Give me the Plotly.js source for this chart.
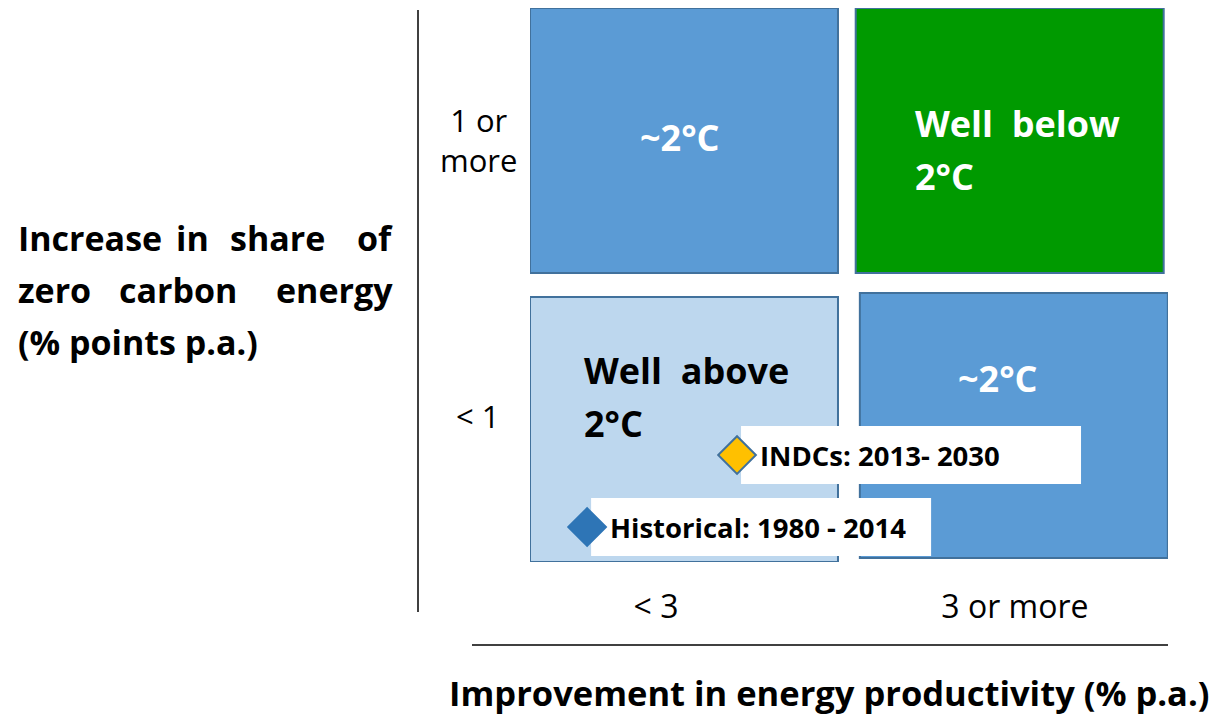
<!DOCTYPE html>
<html>
<head>
<meta charset="utf-8">
<script src="https://cdn.plot.ly/plotly-3.0.1.min.js"></script>
<style>html,body{margin:0;padding:0;background:#fff;}#chart{width:1221px;height:716px;}</style>
</head>
<body>
<div id="chart"></div>
<script>
// ---------- data ----------
const xCategories = ["< 3", "3 or more"];
const yCategories = ["< 1", "1 or more"];
const xTitle = "Improvement in energy productivity (% p.a.)";
const yTitleLines = ["Increase in share of", "zero carbon energy", "(% points p.a.)"];

const cellCol = [0, 1, 0, 1];
const cellRow = [1, 1, 0, 0];
const cellLabel = [["~2°C"], ["Well\u00A0 below", "2°C"], ["Well\u00A0 above", "2°C"], ["~2°C"]];

const seriesNames = ["Historical: 1980 - 2014", "INDCs: 2013- 2030"];
const productivity = [0.179, 0.649];
const zeroCarbonShare = [0.126, 0.386];

// ---------- style ----------
const FONT = "'Open Sans', Lato, sans-serif";
const cellFill = ["#5B9BD5", "#009A00", "#BDD7EE", "#5B9BD5"];
const cellText = ["#ffffff", "#ffffff", "#000000", "#ffffff"];
const cellBorder = "#41719C";
const cellW = 0.9655, cellH = 0.957;
const cellShift = [[0, 0.043], [0.021, 0.043], [0, 0], [0.034, 0.0144]];
// label anchor within each cell: [x, y, xanchor]
const cellLabelPos = [[0.470, 0.531, "center"], [0.2006, 0.487, "left"], [0.163, 0.596, "left"], [0.467, 0.664, "center"]];
const markerFill = ["#2E75B6", "#FFC000"];
const markerLine = ["#2E75B6", "#41719C"];

const L = 530, R = 53, T = 8, B = 154, W = 1221, H = 716;
const PW = W - L - R, PH = H - T - B;
const ux = d => d * 2 / PW, uy = d => d * 2 / PH;       // px -> data units
const pxX = x => (x - L) / PW, pxY = y => (H - B - y) / PH; // px -> paper

const shapes = [];
const annotations = [];

cellCol.forEach((c, i) => {
  const x0 = c + cellShift[i][0], y0 = cellRow[i] + cellShift[i][1];
  shapes.push({type: "rect", xref: "x", yref: "y", x0: x0, x1: x0 + cellW, y0: y0, y1: y0 + cellH,
    fillcolor: cellFill[i], line: {color: cellBorder, width: 2}, layer: "below"});
  const lines = cellLabel[i];
  const lp = cellLabelPos[i];
  const gap = uy(53);
  lines.forEach((t, k) => {
    annotations.push({xref: "x", yref: "y", x: c + lp[0], y: cellRow[i] + lp[1] + (lines.length - 1) * gap / 2 - k * gap,
      text: t, showarrow: false, xanchor: lp[2], yanchor: "middle",
      font: {family: FONT, size: 36, color: cellText[i], weight: 700}});
  });
});

// label boxes
productivity.forEach((p, i) => {
  const z = zeroCarbonShare[i];
  shapes.push({type: "rect", xref: "x", yref: "y", x0: p + ux(4), x1: p + ux(344), y0: z - uy(29), y1: z + uy(29),
    fillcolor: "#ffffff", line: {width: 0}, layer: "below"});
  annotations.push({xref: "x", yref: "y", x: p + ux(21), y: z, text: seriesNames[i], showarrow: false,
    xanchor: "left", yanchor: "middle", font: {family: FONT, size: 27.5, color: "#000", weight: 700}});
});

// axis lines
shapes.push({type: "line", xref: "paper", yref: "paper", x0: pxX(418), x1: pxX(418), y0: pxY(612), y1: pxY(10),
  line: {color: "#000", width: 1.5}});
shapes.push({type: "line", xref: "paper", yref: "paper", x0: pxX(472), x1: pxX(1168), y0: pxY(645), y1: pxY(645),
  line: {color: "#000", width: 1.5}});

// y tick labels (centered)
const yTickVals = [0.527, 1.523];
yCategories.forEach((t, i) => {
  annotations.push({xref: "paper", yref: "y", x: pxX(478), y: yTickVals[i], text: t.replace(" or ", " or<br>"),
    showarrow: false, xanchor: "center", yanchor: "middle", align: "center",
    font: {family: FONT, size: 31, color: "#000"}});
});

// y title, justified by words (word anchors follow the reference's justified layout)
const yTitleY = [238, 290, 342];
const yWordX = [[16, 192, 277, 395], [16, 178, 395], [16]];
yTitleLines.forEach((line, li) => {
  const words = li < 2 ? line.split(" ") : [line];
  words.forEach((w, k) => {
    annotations.push({xref: "paper", yref: "paper", x: pxX(yWordX[li][k]), y: pxY(yTitleY[li]), text: w,
      showarrow: false, xanchor: k === 0 ? "left" : (k === words.length - 1 ? "right" : "center"), yanchor: "middle",
      font: {family: FONT, size: 34, color: "#000", weight: 700}});
  });
});

// x title
annotations.push({xref: "paper", yref: "paper", x: pxX(829), y: pxY(692), text: xTitle, showarrow: false,
  xanchor: "center", yanchor: "middle", font: {family: FONT, size: 34.5, color: "#000", weight: 700}});

const trace = {
  type: "scatter", mode: "markers", x: productivity, y: zeroCarbonShare, text: seriesNames,
  hoverinfo: "text", cliponaxis: false,
  marker: {symbol: "diamond", size: 29, color: markerFill, line: {color: markerLine, width: 2}}
};

const layout = {
  width: W, height: H, margin: {l: L, r: R, t: T, b: B},
  paper_bgcolor: "#fff", plot_bgcolor: "#fff", showlegend: false,
  xaxis: {range: [0, 2], showgrid: false, zeroline: false, showline: false, ticks: "",
    tickvals: [0.395, 1.52], ticktext: xCategories, ticklabelstandoff: 23,
    tickfont: {family: FONT, size: 32, color: "#000"}, fixedrange: true},
  yaxis: {range: [0, 2], showgrid: false, zeroline: false, showline: false, showticklabels: false, ticks: "", fixedrange: true},
  shapes: shapes, annotations: annotations, font: {family: FONT}
};

Plotly.newPlot("chart", [trace], layout, {displayModeBar: false, staticPlot: true});
</script>
</body>
</html>
